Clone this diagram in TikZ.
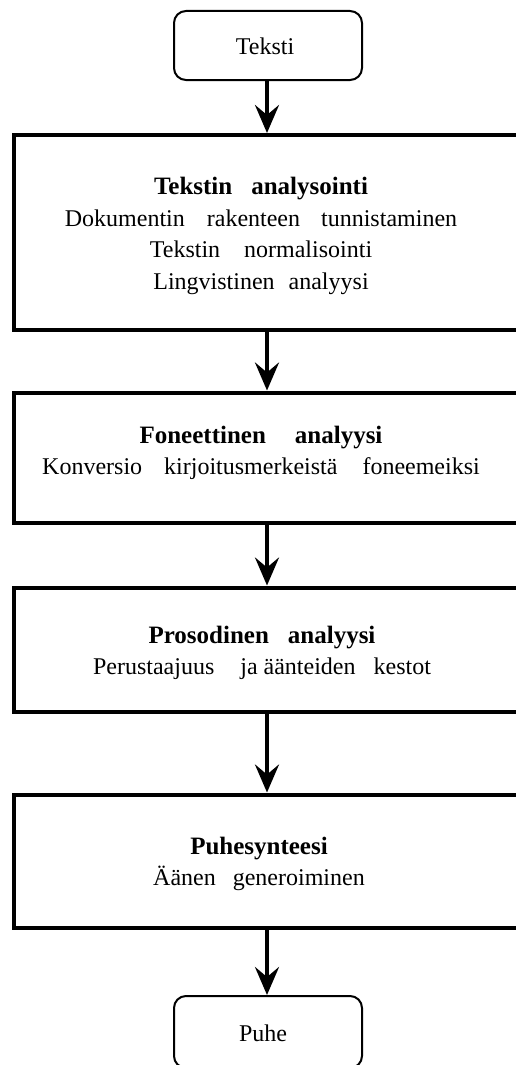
\documentclass[tikz,border=0pt]{standalone}
\usepackage{fontspec}
\setmainfont{Liberation Serif}
\usetikzlibrary{arrows.meta}
\newcommand{\ttlf}{\fontsize{25}{30}\selectfont\bfseries}
\begin{document}
\begin{tikzpicture}[x=1pt,y=-1pt,
  term/.style={draw,line width=2pt,rounded corners=12pt,minimum width=188pt,inner sep=0pt},
  stepbox/.style={draw,line width=4pt,minimum width=506pt,inner sep=0pt},
  txt/.style={align=center,inner sep=0pt,font=\fontsize{24}{31.7}\selectfont},
  flow/.style={line width=4pt,-{Stealth[length=28pt,width=24pt,inset=10pt]}}]
\useasboundingbox (0,0) rectangle (516,1065);
\clip (0,0) rectangle (516,1065);
\node[term,minimum height=69pt] (in) at (268,45.5) {};
\node[txt] at (265,46) {Teksti};
\node[stepbox,minimum height=195pt] (b1) at (267,232.5) {};
\node[txt] (t1) at (261,236) {{\ttlf Tekstin\hspace{19pt}analysointi}\\
Dokumentin\hspace{22pt}rakenteen\hspace{21pt}tunnistaminen\\
Tekstin\hspace{24pt}normalisointi\\
Lingvistinen\hspace{14pt}analyysi};
\node[stepbox,minimum height=130pt] (b2) at (267,457.5) {};
\node[txt] (t2) at (261,453) {{\ttlf Foneettinen\hspace{29pt}analyysi}\\
Konversio\hspace{22pt}kirjoitusmerkeistä\hspace{25pt}foneemeiksi};
\node[stepbox,minimum height=124pt] (b3) at (267,649.5) {};
\node[txt] (t3) at (262,653) {{\ttlf Prosodinen\hspace{19pt}analyysi}\\
Perustaajuus\hspace{26pt}ja äänteiden\hspace{18pt}kestot};
\node[stepbox,minimum height=133.5pt] (b4) at (267,861.25) {};
\node[txt] (t4) at (259,864) {{\ttlf Puhesynteesi}\\
Äänen\hspace{17pt}generoiminen};
\node[term,minimum height=72pt] (out) at (268,1032) {};
\node[txt] at (263,1033) {Puhe};
\draw[flow] (in.south -| b1.north) -- (b1.north);
\draw[flow] (b1.south) -- (b2.north);
\draw[flow] (b2.south) -- (b3.north);
\draw[flow] (b3.south) -- (b4.north);
\draw[flow] (b4.south) -- (out.north -| b4.south);
\end{tikzpicture}
\end{document}
